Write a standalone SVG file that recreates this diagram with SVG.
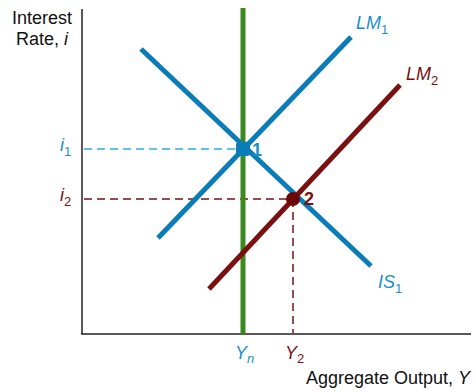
<svg xmlns="http://www.w3.org/2000/svg" width="476" height="392" viewBox="0 0 476 392">
<style>
text{font-family:"Liberation Sans",Arial,sans-serif;font-size:18px}
.it{font-style:italic}
.b{fill:#1a8fc8}
.r{fill:#7a1010}
.k{fill:#111}
.sub{font-size:13px;font-style:normal}
.curve{stroke-width:5;fill:none;stroke-linecap:butt}
</style>
<rect width="476" height="392" fill="#fff"/>
<g id="axes">
<line x1="82" y1="9" x2="82" y2="334" stroke="#222" stroke-width="1.5"/>
<line x1="81" y1="334" x2="471" y2="334" stroke="#222" stroke-width="1.5"/>
<text class="k" x="42" y="24" text-anchor="middle" font-size="17.5">Interest</text>
<text class="k" x="42" y="45" text-anchor="middle" font-size="17.5">Rate, <tspan class="it">i</tspan></text>
<text class="k" x="470" y="384" text-anchor="end" font-size="17.5">Aggregate Output, <tspan class="it">Y</tspan></text>
</g>
<g id="connectors">
<line x1="84" y1="149" x2="243" y2="149" stroke="#2ab0dc" stroke-width="1.5" stroke-dasharray="8,5"/>
<line x1="84" y1="199" x2="293" y2="199" stroke="#7a1010" stroke-width="1.5" stroke-dasharray="8,5"/>
<line x1="293" y1="199" x2="293" y2="333" stroke="#7a1010" stroke-width="1.5" stroke-dasharray="8,5"/>
</g>
<g id="Yn-line"><line x1="243" y1="8" x2="243" y2="334" stroke="#3a8a1e" stroke-width="5"/></g>
<g id="IS1">
<line class="curve" x1="141" y1="49" x2="371" y2="266" stroke="#0a7cb8"/>
<text class="b it" x="378" y="288">IS<tspan class="sub" dy="5">1</tspan></text>
</g>
<g id="LM1">
<line class="curve" x1="158" y1="238" x2="351" y2="37" stroke="#0a7cb8"/>
<text class="b it" x="356" y="29">LM<tspan class="sub" dy="5">1</tspan></text>
</g>
<g id="LM2">
<line class="curve" x1="209" y1="289" x2="400" y2="85" stroke="#7a1010"/>
<text class="r it" x="406" y="80">LM<tspan class="sub" dy="5">2</tspan></text>
</g>
<g id="point1">
<rect x="236" y="142" width="14" height="14" rx="3" fill="#0a7cb8"/>
<text class="b" x="252" y="156" font-weight="bold" font-size="16">1</text>
</g>
<g id="point2">
<circle cx="293" cy="199" r="7" fill="#6a0808"/>
<text class="r" x="304" y="205" font-weight="bold" font-size="16">2</text>
</g>
<g id="labels">
<text class="b it" x="60" y="151">i<tspan class="sub" dy="5">1</tspan></text>
<text class="r it" x="60" y="201">i<tspan class="sub" dy="5">2</tspan></text>
<text class="b it" x="235" y="359">Y<tspan dy="4" font-size="13">n</tspan></text>
<text class="r it" x="285" y="359">Y<tspan class="sub" dy="4">2</tspan></text>
</g>
</svg>
